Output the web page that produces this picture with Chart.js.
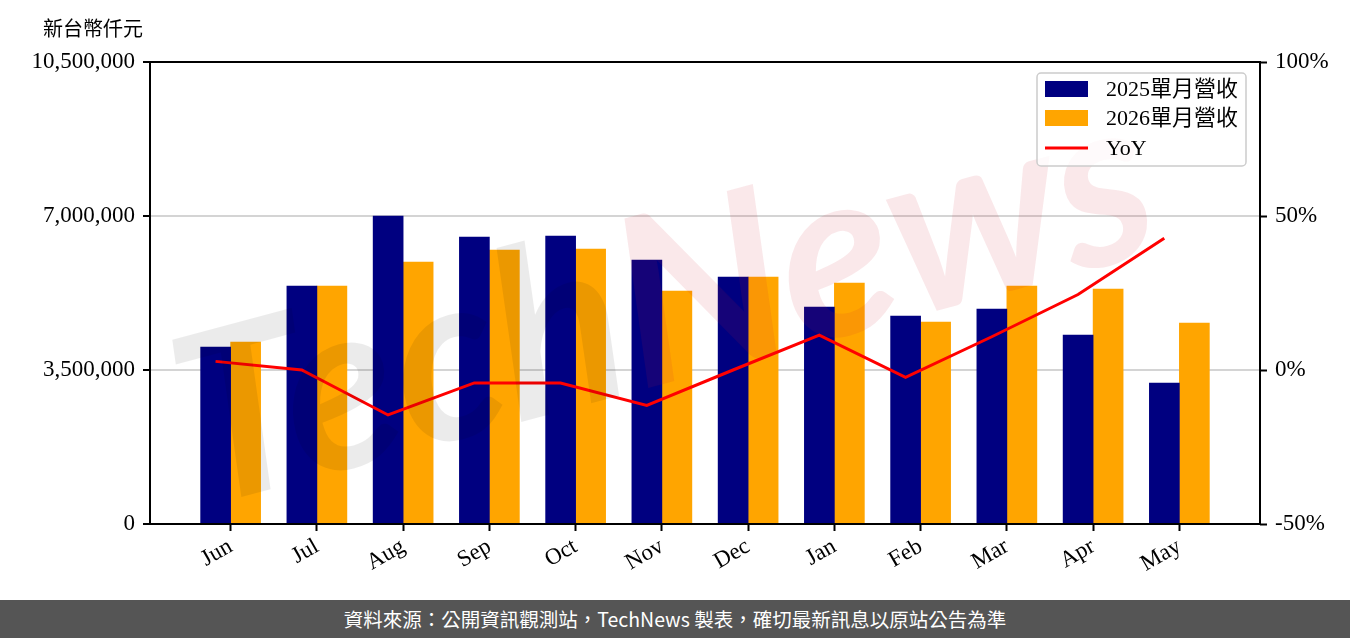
<!DOCTYPE html>
<html lang="zh-TW">
<head>
  <meta charset="UTF-8">
  <title>單月營收</title>
  <style>
    html, body {
      margin: 0;
      padding: 0;
      background: #fff;
      overflow: hidden;
    }
    #wrap {
      width: 1350px;
      height: 600px;
    }
    #footer {
      width: 1350px;
      height: 38px;
      background: #555;
      color: #fff;
      font-family: 'Noto Sans CJK TC', 'Noto Sans', sans-serif;
      font-size: 19.5px;
      line-height: 38px;
      text-align: center;
    }
  </style>
</head>
<body>
  <div id="wrap"><canvas id="chart" width="1350" height="600"></canvas></div>
  <div id="footer" lang="zh-TW">資料來源：公開資訊觀測站，TechNews 製表，確切最新訊息以原站公告為準</div>

  <script src="https://cdn.jsdelivr.net/npm/chart.js"></script>
  <script>
    // datos (新台幣仟元)
    const MESES    = ['Jun','Jul','Aug','Sep','Oct','Nov','Dec','Jan','Feb','Mar','Apr','May'];
    const REV_2025 = [4023000, 5410000, 7000000, 6520000, 6545000, 6000000, 5614000, 4932000, 4727000, 4886000, 4295000, 3205000];
    const REV_2026 = [4136000, 5410000, 5955000, 6227000, 6250000, 5295000, 5614000, 5477000, 4591000, 5409000, 5341000, 4568000];
    const YOY      = [2.8, 0.0, -14.6, -4.2, -4.2, -11.5, 0.0, 11.3, -2.4, 10.8, 24.5, 42.8];
    const TICKS_IZQ = [0, 3500000, 7000000, 10500000];
    const TICKS_DER = [-50, 0, 50, 100];
    const LEYENDA   = ['2025單月營收', '2026單月營收', 'YoY'];

    const BAR_W = 0.35;   // ancho de barra en unidades del eje x
    const SERIF = "'Liberation Serif', 'Noto Sans CJK TC', serif";
    const COLORES = { c2025: '#000080', c2026: '#FFA500', yoy: '#FF0000' };

    Chart.defaults.color = '#000';

    const marcaAgua = {
      id: 'marcaAgua',
      afterDatasetsDraw(chart) {
        const ctx = chart.ctx;
        ctx.save();
        ctx.translate(665, 305);
        ctx.rotate(-15 * Math.PI / 180);
        ctx.font = "italic bold 235px Lato";
        ctx.textBaseline = 'middle';
        const w1 = ctx.measureText('Tech').width;
        const w2 = ctx.measureText('News').width;
        const x0 = -(w1 + w2) / 2;
        ctx.fillStyle = 'rgba(0,0,0,0.08)';
        ctx.fillText('Tech', x0, 0);
        ctx.fillStyle = 'rgba(210,30,50,0.1)';
        ctx.fillText('News', x0 + w1, 0);
        ctx.restore();
      }
    };

    const marco = {
      id: 'marco',
      afterDraw(chart) {
        const ctx = chart.ctx;
        const a = chart.chartArea;
        ctx.save();
        // ejes
        ctx.strokeStyle = '#000';
        ctx.lineWidth = 2;
        ctx.strokeRect(a.left, a.top, a.right - a.left, a.bottom - a.top);

        // unidad
        ctx.font = "20px 'Noto Sans CJK TC', sans-serif";
        ctx.fillStyle = '#000';
        ctx.textBaseline = 'middle';
        ctx.fillText('新台幣仟元', 43, 28);

        // leyenda
        const lw = 209, lh = 93;
        const lx = a.right - 14 - lw, ly = a.top + 11;
        ctx.beginPath();
        ctx.roundRect(lx, ly, lw, lh, 4);
        ctx.fillStyle = 'rgba(255,255,255,0.8)';
        ctx.fill();
        ctx.strokeStyle = '#cccccc';
        ctx.lineWidth = 1.5;
        ctx.stroke();

        const filas = [ly + 16, ly + 45, ly + 75];
        ctx.font = '22px ' + SERIF;
        ctx.textBaseline = 'middle';
        ctx.fillStyle = COLORES.c2025;
        ctx.fillRect(lx + 8, filas[0] - 8, 43, 16);
        ctx.fillStyle = COLORES.c2026;
        ctx.fillRect(lx + 8, filas[1] - 8, 43, 16);
        ctx.strokeStyle = COLORES.yoy;
        ctx.lineWidth = 3;
        ctx.beginPath();
        ctx.moveTo(lx + 8, filas[2]);
        ctx.lineTo(lx + 51, filas[2]);
        ctx.stroke();
        ctx.fillStyle = '#000';
        LEYENDA.forEach((t, i) => ctx.fillText(t, lx + 69, filas[i] + 1));
        ctx.restore();
      }
    };

    const fuente = { family: SERIF, size: 23 };

    new Chart(document.getElementById('chart').getContext('2d'), {
      type: 'bar',
      data: {
        datasets: [
          {
            type: 'line',
            label: 'YoY',
            data: MESES.map((m, i) => ({ x: i, y: YOY[i] })),
            yAxisID: 'y1',
            borderColor: COLORES.yoy,
            borderWidth: 3,
            pointRadius: 0,
            tension: 0,
            order: 0
          },
          {
            label: '2025單月營收',
            data: MESES.map((m, i) => ({ x: i + BAR_W / 2, y: REV_2025[i] })),
            backgroundColor: COLORES.c2025,
            barThickness: 30,
            order: 1
          },
          {
            label: '2026單月營收',
            data: MESES.map((m, i) => ({ x: i + BAR_W / 2, y: REV_2026[i] })),
            backgroundColor: COLORES.c2026,
            barThickness: 30,
            order: 1
          }
        ]
      },
      options: {
        responsive: false,
        animation: false,
        devicePixelRatio: 1,
        layout: { padding: { top: 62, left: 0, right: 0, bottom: 0 } },
        plugins: {
          legend: { display: false },
          tooltip: { enabled: false }
        },
        scales: {
          x: {
            type: 'linear',
            offset: false,
            min: -0.76,
            max: 12.11,
            afterBuildTicks: s => { s.ticks = MESES.map((m, i) => ({ value: i + BAR_W / 2 })); },
            afterFit: s => { s.height = 76; },
            ticks: {
              autoSkip: false,
              callback: (v, i) => MESES[i],
              minRotation: 30,
              maxRotation: 30,
              font: fuente,
              padding: 2
            },
            grid: { offset: false, drawOnChartArea: false, tickLength: 7, tickColor: '#000', tickWidth: 2 },
            border: { display: false }
          },
          y: {
            position: 'left',
            min: 0,
            max: 10500000,
            afterBuildTicks: s => { s.ticks = TICKS_IZQ.map(v => ({ value: v })); },
            afterFit: s => { s.width = 150; },
            ticks: {
              callback: v => v.toLocaleString('en-US'),
              font: fuente,
              padding: 8
            },
            grid: { color: '#d4d4d4', lineWidth: 2, tickLength: 7, tickColor: '#000', tickWidth: 2 },
            border: { display: false }
          },
          y1: {
            position: 'right',
            min: -50,
            max: 100,
            afterBuildTicks: s => { s.ticks = TICKS_DER.map(v => ({ value: v })); },
            afterFit: s => { s.width = 90; },
            ticks: {
              callback: v => v + '%',
              font: fuente,
              padding: 8
            },
            grid: { drawOnChartArea: false, tickLength: 7, tickColor: '#000', tickWidth: 2 },
            border: { display: false }
          }
        }
      },
      plugins: [marcaAgua, marco]
    });
  </script>
</body>
</html>
